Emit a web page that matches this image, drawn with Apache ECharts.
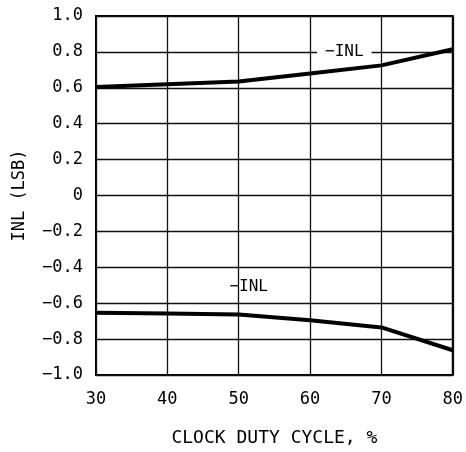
<!DOCTYPE html>
<html>
<head>
<meta charset="utf-8">
<style>
  html, body { margin: 0; padding: 0; background: #fff; }
  #chart { width: 466px; height: 452px; }
</style>
<script src="https://cdn.jsdelivr.net/npm/echarts@6/dist/echarts.min.js"></script>
</head>
<body>
<div id="chart"></div>
<script>
// Clock duty cycle (%) and integral nonlinearity (LSB)
const dutyCycle = [30, 40, 50, 60, 70, 80];
const inlPositive = [0.605, 0.62, 0.635, 0.68, 0.725, 0.815];
const inlNegative = [-0.653, -0.658, -0.663, -0.695, -0.735, -0.862];
const xTicks = [30, 40, 50, 60, 70, 80];
const yTicks = [-1.0, -0.8, -0.6, -0.4, -0.2, 0, 0.2, 0.4, 0.6, 0.8, 1.0];

const FONT = 'DejaVu Sans Mono';
const minus = s => String(s).replace('-', '\u2212');

const chart = echarts.init(document.getElementById('chart'), null, { renderer: 'canvas' });

const pairs = ys => dutyCycle.map((x, i) => [x, ys[i]]);

chart.setOption({
  animation: false,
  backgroundColor: '#fff',
  grid: { left: 96, right: 12, top: 16, bottom: 77, show: true, borderColor: '#000', borderWidth: 2 },
  xAxis: {
    type: 'value',
    min: xTicks[0], max: xTicks[xTicks.length - 1], interval: 10,
    name: 'CLOCK DUTY CYCLE, %',
    nameLocation: 'middle', nameGap: 54,
    nameTextStyle: { fontFamily: FONT, fontSize: 18, color: '#000' },
    axisLine: { show: false },
    axisTick: { show: false },
    axisLabel: { fontFamily: FONT, fontSize: 17, color: '#000', margin: 16 },
    splitLine: { show: true, lineStyle: { color: '#111', width: 1.3 } }
  },
  yAxis: {
    type: 'value',
    min: yTicks[0], max: yTicks[yTicks.length - 1], interval: 0.2,
    name: 'INL (LSB)',
    nameLocation: 'middle', nameGap: 68,
    nameTextStyle: { fontFamily: FONT, fontSize: 17, color: '#000' },
    axisLine: { show: false },
    axisTick: { show: false },
    axisLabel: {
      fontFamily: FONT, fontSize: 17, color: '#000', margin: 13,
      formatter: v => minus(v === 0 ? '0' : v.toFixed(1))
    },
    splitLine: { show: true, lineStyle: { color: '#111', width: 1.3 } }
  },
  series: [
    {
      type: 'line',
      data: pairs(inlPositive),
      symbol: 'none',
      lineStyle: { color: '#000', width: 4 },
      markPoint: {
        symbol: 'rect', symbolSize: 0,
        data: [{ coord: [64.8, 0.8] }],
        label: {
          show: true, formatter: '\u2212INL', fontFamily: FONT, fontSize: 16, color: '#000',
          backgroundColor: '#fff', padding: [2, 8], position: 'inside'
        }
      }
    },
    {
      type: 'line',
      data: pairs(inlNegative),
      symbol: 'none',
      lineStyle: { color: '#000', width: 4 },
      markPoint: {
        symbol: 'rect', symbolSize: 0,
        data: [{ coord: [51.4, -0.51] }],
        label: {
          show: true, formatter: '\u2212INL', fontFamily: FONT, fontSize: 16, color: '#000',
          position: 'inside'
        }
      }
    }
  ]
});
</script>
</body>
</html>
